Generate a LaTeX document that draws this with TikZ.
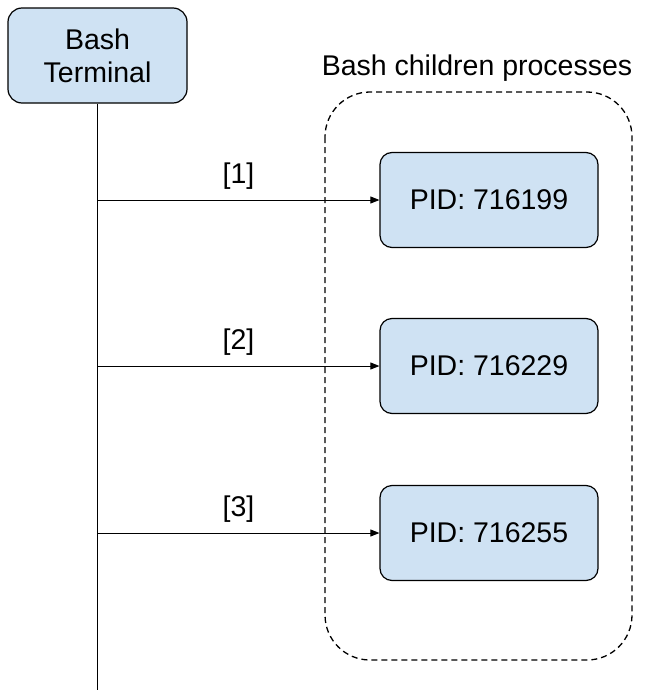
\documentclass[tikz,border=0pt]{standalone}
\usepackage{fontspec}
\setmainfont{Liberation Sans}
\usetikzlibrary{arrows.meta}
\tikzset{
  procbox/.style={draw, line width=1.2pt, rounded corners=12pt, fill=boxblue, minimum width=218pt, minimum height=95pt, font=\fontsize{28.5}{33}\selectfont},
  callarrow/.style={line width=0.9pt, -{Triangle[length=9pt,width=7pt]}},
  steplabel/.style={midway, above=7pt, font=\fontsize{28.5}{33}\selectfont}
}
\definecolor{boxblue}{HTML}{CFE2F3}
\begin{document}
\begin{tikzpicture}[x=1pt,y=-1pt]
\useasboundingbox (0,0) rectangle (659,696);

\node[draw, line width=1.2pt, rounded corners=14pt, fill=boxblue, minimum width=179pt, minimum height=95pt, align=center, font=\fontsize{28.5}{33}\selectfont] (term) at (97.5,55.5) {Bash\\Terminal};
\coordinate (termend) at (97.5,690);
\draw[line width=0.9pt] (term.south) -- (termend);

\draw[line width=1.3pt, dash pattern=on 6pt off 4pt, rounded corners=45pt] (325,92) rectangle (632,660);
\node[font=\fontsize{28.5}{33}\selectfont] (grouplabel) at (477,68) {Bash children processes};

\node[procbox] (p1) at (489,200) {PID: 716199};
\node[procbox] (p2) at (489,366) {PID: 716229};
\node[procbox] (p3) at (489,533) {PID: 716255};

\coordinate (s1) at (97.5,200);
\coordinate (s2) at (97.5,366);
\coordinate (s3) at (97.5,533);
\draw[callarrow] (s1) -- (p1.west) node[steplabel] (l1) {[1]};
\draw[callarrow] (s2) -- (p2.west) node[steplabel] (l2) {[2]};
\draw[callarrow] (s3) -- (p3.west) node[steplabel] (l3) {[3]};
\end{tikzpicture}
\end{document}
